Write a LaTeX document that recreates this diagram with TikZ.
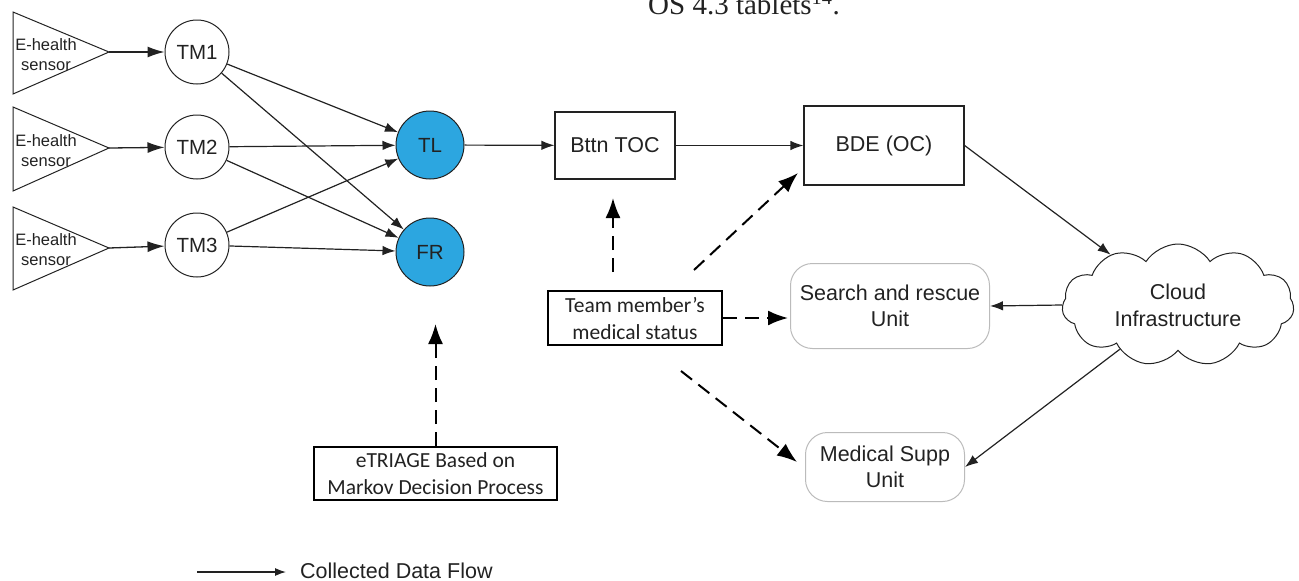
\documentclass[tikz,border=0pt]{standalone}
\usepackage{fontspec}
\setmainfont{Liberation Sans}
\newfontfamily\calib{Carlito}
\newfontfamily\timesf{Liberation Serif}
\usetikzlibrary{arrows.meta,shapes.symbols}
\definecolor{ink}{HTML}{222222}
\definecolor{tlblue}{HTML}{2CA6E0}
\definecolor{softgray}{HTML}{BBBBBB}
\tikzset{
  flow/.style={draw=ink, line width=1.2pt, -{Latex[length=13pt,width=9.5pt]}},
  bigflow/.style={draw=ink, line width=1.3pt, -{Latex[length=17pt,width=11pt]}},
  dasharrow/.style={draw=black, line width=2pt, dash pattern=on 14pt off 8pt, -{Latex[length=20pt,width=15pt]}},
  tmnode/.style={circle, draw=ink, line width=1pt, minimum size=64pt, inner sep=0pt, text=ink, font=\fontsize{20.5}{24}\selectfont},
  leadnode/.style={circle, draw=ink, line width=1pt, fill=tlblue, minimum size=68pt, inner sep=0pt, text=ink, font=\fontsize{20.5}{24}\selectfont},
  sqbox/.style={draw=ink, line width=1.2pt, inner sep=0pt, text=ink, font=\fontsize{21.5}{26}\selectfont},
  softbox/.style={draw=softgray, line width=1pt, rounded corners=22pt, inner sep=0pt, align=center, text=ink, font=\fontsize{21.5}{26}\selectfont},
  calbox/.style={draw=black, line width=2pt, inner sep=0pt, align=center, text=ink, font=\calib\fontsize{21.5}{27}\selectfont},
  sensor/.style={draw=ink, line width=1pt},
  sensortext/.style={align=center, text=ink, inner sep=0pt, font=\fontsize{16.5}{20}\selectfont}
}
\begin{document}
\begin{tikzpicture}[x=1pt,y=-1pt]
\useasboundingbox (0,0) rectangle (1299,581);
% header fragment
\node[anchor=base west, inner sep=0pt, font=\timesf\fontsize{29}{30}\selectfont, text=ink] (hdr) at (648,14) {OS 4.3 tablets\textsuperscript{14}.};
% sensors
\draw[sensor] (13,12) -- (109,52) -- (13,94) -- cycle;
\draw[sensor] (13,107) -- (109,148) -- (13,191) -- cycle;
\draw[sensor] (13,207) -- (109,248) -- (13,290) -- cycle;
\coordinate (s1) at (109,52);
\coordinate (s2) at (109,148);
\coordinate (s3) at (109,248);
\node[sensortext] (st1) at (46,55) {E-health\\sensor};
\node[sensortext] (st2) at (46,151) {E-health\\sensor};
\node[sensortext] (st3) at (46,250) {E-health\\sensor};
% team members
\node[tmnode] (tm1) at (197,52) {TM1};
\node[tmnode] (tm2) at (197,147) {TM2};
\node[tmnode] (tm3) at (197,245) {TM3};
\node[leadnode] (tl) at (430,145) {TL};
\node[leadnode] (fr) at (430,252) {FR};
% boxes
\node[sqbox, minimum width=120pt, minimum height=67pt] (bttn) at (615,145.5) {Bttn TOC};
\node[sqbox, minimum width=160pt, minimum height=79pt] (bde) at (884,145.5) {BDE (OC)};
\node[cloud, cloud puffs=11, cloud puff arc=115, aspect=1.9, draw=ink, line width=1pt, minimum width=232pt, minimum height=122pt, inner sep=0pt, align=center, text=ink, font=\fontsize{21.5}{27}\selectfont] (cloud) at (1178,305) {Cloud\\Infrastructure};
\node[softbox, minimum width=199pt, minimum height=85pt] (sr) at (890,306) {Search and rescue\\Unit};
\node[softbox, minimum width=159pt, minimum height=69pt] (ms) at (885,467) {Medical Supp\\Unit};
\node[calbox, minimum width=174pt, minimum height=54pt] (tm) at (635,318) {Team member’s\\medical status};
\node[calbox, minimum width=243pt, minimum height=53pt] (etr) at (435.5,473.5) {eTRIAGE Based on\\Markov Decision Process};
% solid flows
\draw[bigflow] (s1) -- (tm1);
\draw[bigflow] (s2) -- (tm2);
\draw[bigflow] (s3) -- (tm3);
\draw[flow] (tm1) -- (tl);
\draw[flow] (tm1) -- (fr);
\draw[flow] (tm2) -- (tl);
\draw[flow] (tm2) -- (fr);
\draw[flow] (tm3) -- (tl);
\draw[flow] (tm3) -- (fr);
\draw[flow] (tl) -- (bttn);
\draw[flow] (bttn) -- (bde);
\draw[flow] (bde.east) -- (cloud);
\draw[flow] (cloud.west) -- (sr.east);
\draw[flow] (cloud) -- (ms.east);
% dashed flows
\coordinate (d1s) at (613,272);
\coordinate (d1e) at (613,198);
\coordinate (d2s) at (694,270);
\coordinate (d2e) at (798,173);
\coordinate (d3e) at (788,318);
\coordinate (d4s) at (681,371);
\coordinate (d4e) at (797,462);
\coordinate (d5e) at (435.5,324);
\draw[dasharrow] (d1s) -- (d1e);
\draw[dasharrow] (d2s) -- (d2e);
\draw[dasharrow] (tm.east) -- (d3e);
\draw[dasharrow] (d4s) -- (d4e);
\draw[dasharrow] (etr.north) -- (d5e);
% legend
\coordinate (lg1) at (197,572);
\coordinate (lg2) at (286,572);
\node[anchor=west, inner sep=0pt, text=ink, font=\fontsize{21.5}{26}\selectfont] (lgt) at (300,571) {Collected Data Flow};
\draw[draw=ink, line width=1.2pt, -{Latex[length=11pt,width=8pt]}] (lg1) -- (lg2);
\end{tikzpicture}
\end{document}
